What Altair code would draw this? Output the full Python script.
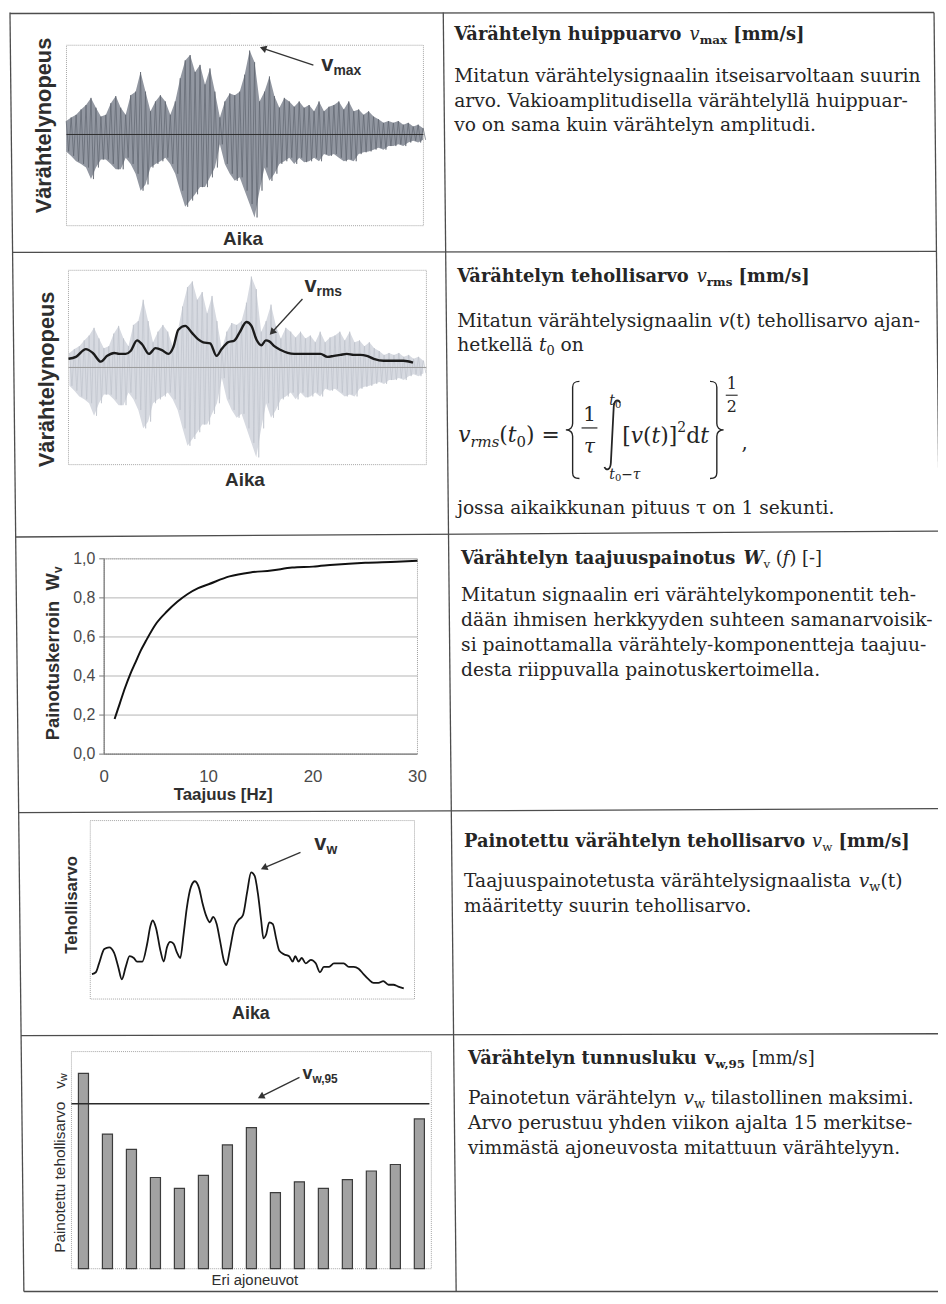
import glob
import math
import os
import struct

import altair as alt
import pandas as pd

# ----------------------------------------------------------------------------
# DATA
# ----------------------------------------------------------------------------
# Rows 1-2: measured vibration velocity, upper / lower peak of each time slot
signal_upper = [
    0.15, 0.19, 0.22, 0.28, 0.33, 0.41, 0.30, 0.20, 0.22, 0.35,
    0.43, 0.30, 0.22, 0.44, 0.48, 0.70, 0.48, 0.26, 0.37, 0.44,
    0.37, 0.22, 0.37, 0.63, 0.83, 0.89, 0.70, 0.78, 0.56, 0.74,
    0.48, 0.19, 0.37, 0.46, 0.44, 0.48, 0.67, 0.94, 0.81, 0.37,
    0.48, 0.65, 0.43, 0.30, 0.41, 0.37, 0.31, 0.37, 0.30, 0.33,
    0.26, 0.37, 0.26, 0.31, 0.33, 0.37, 0.28, 0.37, 0.26, 0.28,
    0.22, 0.26, 0.20, 0.17, 0.13, 0.15, 0.13, 0.15, 0.11, 0.13,
    0.09, 0.11, 0.07,
]
signal_lower = [
    -0.19, -0.24, -0.30, -0.33, -0.37, -0.50, -0.37, -0.28, -0.28, -0.33,
    -0.39, -0.39, -0.26, -0.33, -0.44, -0.63, -0.56, -0.37, -0.33, -0.30,
    -0.26, -0.33, -0.44, -0.63, -0.81, -0.74, -0.67, -0.59, -0.59, -0.48,
    -0.37, -0.11, -0.33, -0.44, -0.52, -0.48, -0.63, -0.78, -0.93, -0.63,
    -0.37, -0.52, -0.44, -0.33, -0.30, -0.26, -0.33, -0.26, -0.31, -0.30,
    -0.26, -0.30, -0.22, -0.24, -0.22, -0.26, -0.30, -0.28, -0.30, -0.22,
    -0.20, -0.19, -0.17, -0.15, -0.17, -0.13, -0.13, -0.11, -0.13, -0.09,
    -0.07, -0.09, -0.06,
]
# Row 2: running rms curve (same time units as the signal samples)
rms_time = [
    0, 1.5, 3.5, 4.9, 6.5, 7.8, 9.2, 10.2, 11.5, 12.5,
    13.8, 14.8, 16.2, 17.5, 18.8, 20.1, 21.1, 22.1, 23.5, 24.8,
    26.1, 27.1, 28.5, 29.8, 30.8, 32.1, 33.4, 34.4, 35.8, 36.8,
    37.8, 38.8, 39.7, 40.4, 41.4, 42.7, 44.1, 45.4, 46.7, 48.1,
    49.4, 50.7, 52.1, 53.4, 54.7, 56.0, 57.4, 58.7, 60.0, 61.4,
    63.4, 65.4, 67.4, 69.3,
]
rms_value = [
    0.09, 0.11, 0.19, 0.15, 0.06, 0.12, 0.15, 0.14, 0.14, 0.17,
    0.28, 0.24, 0.14, 0.20, 0.18, 0.14, 0.21, 0.39, 0.43, 0.36,
    0.29, 0.26, 0.25, 0.12, 0.19, 0.26, 0.28, 0.36, 0.47, 0.43,
    0.29, 0.23, 0.28, 0.27, 0.22, 0.18, 0.15, 0.14, 0.14, 0.14,
    0.14, 0.14, 0.11, 0.12, 0.13, 0.14, 0.13, 0.13, 0.12, 0.09,
    0.07, 0.07, 0.07, 0.05,
]
# Row 3: frequency weighting Wv(f)
wv_freq = [1, 1.5, 2, 2.5, 3, 3.5, 4, 5, 6, 7, 8, 9, 10, 12, 14, 16, 18, 20, 22, 25, 28, 30]
wv_weight = [0.18, 0.26, 0.34, 0.41, 0.47, 0.53, 0.58, 0.67, 0.73, 0.78, 0.82, 0.85,
             0.87, 0.91, 0.93, 0.94, 0.955, 0.96, 0.97, 0.98, 0.985, 0.99]
wv_yticks = [0.0, 0.2, 0.4, 0.6, 0.8, 1.0]
wv_ytick_labels = ["0,0", "0,2", "0,4", "0,6", "0,8", "1,0"]
wv_xticks = [0, 10, 20, 30]
wv_xtick_labels = ["0", "10", "20", "30"]
# Row 4: weighted rms curve
vw_time = [
    0.6, 1.8, 2.8, 4.4, 5.9, 7.4, 8.7, 9.8, 11.0, 12.2,
    13.5, 14.5, 16.1, 17.6, 18.6, 19.3, 20.3, 21.7, 22.7, 23.7,
    24.7, 25.7, 26.8, 27.8, 28.8, 29.8, 31.1, 32.3, 33.6, 34.6,
    35.9, 36.9, 37.9, 39.0, 40.0, 41.3, 42.0, 43.0, 44.4, 45.6,
    47.1, 48.4, 49.6, 50.7, 51.7, 52.7, 53.4, 54.2, 55.2, 56.3,
    57.3, 58.3, 59.8, 61.3, 62.4, 63.2, 64.2, 65.2, 66.4, 68.0,
    69.5, 70.8, 72.0, 73.6, 75.1, 76.6, 78.1, 79.7, 81.2, 82.7,
    84.2, 85.8, 87.3, 88.8, 90.3, 91.9, 93.4, 94.9, 96.6,
]
vw_value = [
    0.14, 0.15, 0.20, 0.28, 0.29, 0.26, 0.18, 0.11, 0.18, 0.24,
    0.23, 0.21, 0.21, 0.31, 0.41, 0.44, 0.40, 0.27, 0.21, 0.29,
    0.32, 0.31, 0.26, 0.23, 0.36, 0.51, 0.63, 0.66, 0.62, 0.54,
    0.46, 0.43, 0.46, 0.42, 0.33, 0.21, 0.19, 0.27, 0.40, 0.44,
    0.47, 0.60, 0.71, 0.69, 0.59, 0.44, 0.34, 0.36, 0.43, 0.42,
    0.34, 0.27, 0.25, 0.24, 0.21, 0.24, 0.21, 0.23, 0.20, 0.22,
    0.20, 0.15, 0.18, 0.18, 0.20, 0.20, 0.20, 0.18, 0.18, 0.17,
    0.14, 0.11, 0.09, 0.09, 0.10, 0.08, 0.08, 0.07, 0.06,
]
# Row 5: weighted rms of the 15 vehicles and the statistical maximum
vehicles = list(range(1, 16))
vehicle_vw = [0.90, 0.62, 0.55, 0.42, 0.37, 0.43, 0.57, 0.65, 0.35, 0.40,
              0.37, 0.41, 0.45, 0.48, 0.69]
vw95_level = [0.76]

# ----------------------------------------------------------------------------
# LAYOUT helpers (page pixel coordinates -> chart coordinates)
# ----------------------------------------------------------------------------
OX, OY = 8, 8
W, H = 938, 1292


def px(x):
    return x - OX


def py(y):
    return y - OY


SERIF = "DejaVu Serif"
SANS = "Liberation Sans"
INK = "#252525"
LBL = "#2e2e2e"

FONT_FILES = {
    (SERIF, "normal", "normal"): "DejaVuSerif.ttf",
    (SERIF, "bold", "normal"): "DejaVuSerif-Bold.ttf",
    (SERIF, "normal", "italic"): "DejaVuSerif-Italic.ttf",
    (SERIF, "bold", "italic"): "DejaVuSerif-BoldItalic.ttf",
    (SANS, "normal", "normal"): "LiberationSans-Regular.ttf",
    (SANS, "bold", "normal"): "LiberationSans-Bold.ttf",
}
FALLBACK_EM = {SERIF: 0.58, SANS: 0.55}


class _TTF:
    def __init__(self, path):
        with open(path, "rb") as fh:
            d = fh.read()
        self.d = d
        n = struct.unpack(">H", d[4:6])[0]
        tab = {}
        for i in range(n):
            tag, _c, off, _l = struct.unpack(">4sIII", d[12 + 16 * i: 28 + 16 * i])
            tab[tag] = off
        head = tab[b"head"]
        self.upem = struct.unpack(">H", d[head + 18: head + 20])[0]
        hhea = tab[b"hhea"]
        nhm = struct.unpack(">H", d[hhea + 34: hhea + 36])[0]
        hm = tab[b"hmtx"]
        self.adv = struct.unpack(">%dH" % (2 * nhm), d[hm: hm + 4 * nhm])[0::2]
        cm = tab[b"cmap"]
        nsub = struct.unpack(">H", d[cm + 2: cm + 4])[0]
        self.k = None
        for i in range(nsub):
            pid, eid, off = struct.unpack(">HHI", d[cm + 4 + 8 * i: cm + 12 + 8 * i])
            sub = cm + off
            fmt = struct.unpack(">H", d[sub: sub + 2])[0]
            if fmt == 4 and (pid == 0 or (pid == 3 and eid == 1)):
                s2 = struct.unpack(">H", d[sub + 6: sub + 8])[0]
                k = s2 // 2
                self.ends = struct.unpack(">%dH" % k, d[sub + 14: sub + 14 + s2])
                self.starts = struct.unpack(">%dH" % k, d[sub + 16 + s2: sub + 16 + 2 * s2])
                self.deltas = struct.unpack(">%dh" % k, d[sub + 16 + 2 * s2: sub + 16 + 3 * s2])
                self.rpos = sub + 16 + 3 * s2
                self.roffs = struct.unpack(">%dH" % k, d[self.rpos: self.rpos + s2])
                self.k = k
                break
        if self.k is None:
            raise ValueError("no usable cmap")

    def gid(self, c):
        for i in range(self.k):
            if self.ends[i] >= c:
                if self.starts[i] > c:
                    return 0
                if self.roffs[i] == 0:
                    return (c + self.deltas[i]) & 0xFFFF
                addr = self.rpos + 2 * i + self.roffs[i] + 2 * (c - self.starts[i])
                g = struct.unpack(">H", self.d[addr: addr + 2])[0]
                return ((g + self.deltas[i]) & 0xFFFF) if g else 0
        return 0

    def width(self, s, size):
        tot = 0
        for ch in s:
            g = self.gid(ord(ch))
            tot += self.adv[min(g, len(self.adv) - 1)]
        return tot * size / self.upem


_fonts = {}


def _font(key):
    if key in _fonts:
        return _fonts[key]
    f = None
    name = FONT_FILES.get(key)
    if name:
        for d in ["/usr/share/fonts", "/usr/local/share/fonts",
                  os.path.expanduser("~/.fonts"), os.path.expanduser("~/.local/share/fonts")]:
            try:
                hits = glob.glob(os.path.join(d, "**", name), recursive=True)
            except Exception:
                hits = []
            if hits:
                try:
                    f = _TTF(hits[0])
                except Exception:
                    f = None
                break
    _fonts[key] = f
    return f


def tw(s, font, size, weight="normal", style="normal"):
    f = _font((font, weight, style))
    if f is None:
        return len(s) * size * FALLBACK_EM.get(font, 0.56)
    return f.width(s, size)


TEXTS, LINES, BOXES, HEADS, SHAPES = [], [], [], [], []


def put(x, y, s, font, size, weight="normal", style="normal", color=INK,
        align="left", baseline="alphabetic", angle=0):
    TEXTS.append(dict(x=round(px(x), 2), y=round(py(y), 2), text=s, font=font,
                      size=size, weight=weight, style=style, color=color,
                      align=align, baseline=baseline, angle=angle))


def run(x, y, pieces, font=SERIF, color=INK):
    for s, size, weight, style, dy in pieces:
        lead = len(s) - len(s.lstrip(" "))
        x += tw(" " * lead, font, size, weight, style)
        body = s.strip(" ")
        if body:
            put(x, y + dy, body, font, size, weight, style, color)
        x += tw(s.lstrip(" "), font, size, weight, style)
    return x


def run_up(x, y, pieces, font=SANS, color=LBL):
    for s, size, weight, style, dx in pieces:
        lead = len(s) - len(s.lstrip(" "))
        y -= tw(" " * lead, font, size, weight, style)
        body = s.strip(" ")
        if body:
            put(x + dx, y, body, font, size, weight, style, color, angle=270)
        y -= tw(s.lstrip(" "), font, size, weight, style)
    return y


def line(x1, y1, x2, y2, color="#4d4d4d", width=1.3, dash=""):
    LINES.append(dict(x=px(x1), y=py(y1), x2=px(x2), y2=py(y2),
                      color=color, width=width, dash=dash))


def box(x1, y1, x2, y2, color="#a5a5a5", dash="1,1"):
    BOXES.append(dict(x=px(x1), y=py(y1), x2=px(x2), y2=py(y2), color=color, dash=dash))


def arrow(tail, head, color="#333333"):
    dx, dy = head[0] - tail[0], head[1] - tail[1]
    L = math.hypot(dx, dy)
    ux, uy = dx / L, dy / L
    cx, cy = head[0] - ux * 3.4, head[1] - uy * 3.4
    line(tail[0], tail[1], cx, cy, color, 1.3)
    ang = math.degrees(math.atan2(ux, -uy)) % 360
    HEADS.append(dict(x=px(cx), y=py(cy), a=round(ang, 1)))


def sx(field, dom, r0, r1):
    return alt.X(field, type="quantitative", axis=None,
                 scale=alt.Scale(domain=dom, range=[px(r0), px(r1)], nice=False, zero=False))


def sy(field, dom, r0, r1):
    return alt.Y(field, type="quantitative", axis=None,
                 scale=alt.Scale(domain=dom, range=[py(r0), py(r1)], nice=False, zero=False))


RAW_X = alt.X("x:Q", scale=None, axis=None)
RAW_Y = alt.Y("y:Q", scale=None, axis=None)

# ----------------------------------------------------------------------------
# TABLE GRID (slightly skewed like the scan)
# ----------------------------------------------------------------------------
VLINES = [(10, 24), (447, 460), (942, 955)]
HLINES = [(8, 7), (249, 248), (536, 530), (814, 810), (1039, 1037), (1297, 1297)]


def vx(top, bot, y):
    return top + (bot - top) * (y - 8) / (1297 - 8)


for xt, xb in VLINES:
    line(xt, 7, xb, 1297)
for yl, yr in HLINES:
    line(vx(10, 24, yl), yl, vx(942, 955, yr), yr)

# chart frames
B1 = (67, 40, 427, 222)
B2 = (69, 267, 430, 463)
B3 = (105, 558, 421, 755)
B4 = (91, 822, 418, 1002)
B5 = (72, 1055, 435, 1274)
for b in (B1, B2, B4, B5):
    box(*b)
box(*B3, color="#9a9a9a")
line(B3[0], B3[1], B3[0], B3[3], "#777777", 1.2)
line(B3[0], B3[3], B3[2], B3[3], "#777777", 1.2)

# ----------------------------------------------------------------------------
# TEXTS: left column charts
# ----------------------------------------------------------------------------
put(44, 121, "Värähtelynopeus", SANS, 22, "bold", color=LBL, align="center", baseline="middle", angle=270)
put(245, 241, "Aika", SANS, 19, "bold", color=LBL, align="center")
run(324, 66, [("v", 22, "bold", "normal", 0), ("max", 14, "bold", "normal", 4)], SANS, LBL)
arrow((316, 60), (262, 42))

put(47, 377, "Värähtelynopeus", SANS, 22, "bold", color=LBL, align="center", baseline="middle", angle=270)
put(247, 485, "Aika", SANS, 19, "bold", color=LBL, align="center")
run(307, 289, [("v", 22, "bold", "normal", 0), ("rms", 14, "bold", "normal", 4)], SANS, LBL)
arrow((305, 296), (272, 332))

run_up(59, 741, [("Painotuskerroin  ", 18.5, "bold", "normal", 0), ("W", 18.5, "bold", "normal", 0),
                 ("v", 12, "bold", "normal", 3)], SANS, LBL)
put(225, 801, "Taajuus  [Hz]", SANS, 17, "bold", color=LBL, align="center")

put(73, 907, "Tehollisarvo", SANS, 17, "bold", color=LBL, align="center", baseline="middle", angle=270)
put(253, 1022, "Aika", SANS, 18, "bold", color=LBL, align="center")
run(317, 852, [("v", 22, "bold", "normal", 0), ("w", 14, "bold", "normal", 4)], SANS, LBL)
arrow((303, 854), (263, 871))

run_up(65, 1258, [("Painotettu tehollisarvo   ", 15.5, "normal", "normal", 0), ("v", 15.5, "normal", "normal", 0),
                  ("w", 11, "normal", "normal", 3)], SANS, LBL)
put(257, 1290, "Eri ajoneuvot", SANS, 15, color=LBL, align="center")
run(305, 1083, [("v", 18, "bold", "normal", 0), ("w,95", 12, "bold", "normal", 4)], SANS, LBL)
arrow((302, 1081), (260, 1102))

# ----------------------------------------------------------------------------
# TEXTS: right column
# ----------------------------------------------------------------------------
HS, BS = 18, 18.8
B, N, I = "bold", "normal", "italic"

run(458, 35, [("Värähtelyn huippuarvo ", HS, B, N, 0), ("v", HS, N, I, 0), ("max", 12, B, N, 4),
              (" [mm/s]", HS, B, N, 0)])
put(458, 77, "Mitatun värähtelysignaalin itseisarvoltaan suurin", SERIF, BS)
put(458, 102, "arvo. Vakioamplitudisella värähtelyllä huippuar-", SERIF, BS)
put(458, 127, "vo on sama kuin värähtelyn amplitudi.", SERIF, BS)

run(461, 279, [("Värähtelyn tehollisarvo ", HS, B, N, 0), ("v", HS, N, I, 0), ("rms", 12, B, N, 4),
               (" [mm/s]", HS, B, N, 0)])
run(461, 324, [("Mitatun värähtelysignaalin ", BS, N, N, 0), ("v", BS, N, I, 0),
               ("(t) tehollisarvo ajan-", BS, N, N, 0)])
run(461, 348, [("hetkellä ", BS, N, N, 0), ("t", BS, N, I, 0), ("0", 13, N, N, 4), (" on", BS, N, N, 0)])

# formula v_rms(t0) = { 1/tau  integral [v(t)]^2 dt }^(1/2)
e1 = run(462, 440, [("v", 22, N, I, 0), ("rms", 15, N, I, 5), ("(", 22, N, N, 0), ("t", 22, N, I, 0),
                    ("0", 15, N, N, 5), (") = ", 22, N, N, 0)])
LBRACE = ("M 0.14 -1 C 0.03 -1 0 -0.96 0 -0.88 L 0 -0.13 C 0 -0.05 -0.05 0 -0.14 0 "
          "C -0.05 0 0 0.05 0 0.13 L 0 0.88 C 0 0.96 0.03 1 0.14 1")
RBRACE = ("M -0.14 -1 C -0.03 -1 0 -0.96 0 -0.88 L 0 -0.13 C 0 -0.05 0.05 0 0.14 0 "
          "C 0.05 0 0 0.05 0 0.13 L 0 0.88 C 0 0.96 -0.03 1 -0.14 1")
INTEG = "M 0.22 -0.9 C 0.17 -1.02 0.05 -0.98 0.04 -0.78 L -0.04 0.78 C -0.05 0.98 -0.17 1.02 -0.22 0.9"
SHAPES.append(dict(x=px(e1 + 6), y=py(428), shape=LBRACE, size=98 * 98, sw=1.4))
put(e1 + 23, 419, "1", SERIF, 20, align="center")
line(e1 + 15, 426, e1 + 31, 426, INK, 1.2)
put(e1 + 23, 451, "τ", SERIF, 20, style=I, align="center")
SHAPES.append(dict(x=px(e1 + 46), y=py(433), shape=INTEG, size=72 * 72, sw=1.8))
run(e1 + 43, 403, [("t", 14, N, I, 0), ("0", 10, N, N, 3)])
run(e1 + 43, 477, [("t", 14, N, I, 0), ("0", 10, N, N, 3), ("−", 14, N, N, 0), ("τ", 14, N, I, 0)])
e2 = run(e1 + 56, 441, [("[", 22, N, N, 0), ("v", 22, N, I, 0), ("(", 22, N, N, 0), ("t", 22, N, I, 0),
                        (")]", 22, N, N, 0), ("2", 14, N, N, -11), ("d", 22, N, N, 0), ("t", 22, N, I, 0)])
SHAPES.append(dict(x=px(e2 + 8), y=py(428), shape=RBRACE, size=98 * 98, sw=1.4))
put(e2 + 23, 387, "1", SERIF, 16, align="center")
line(e2 + 17, 393, e2 + 29, 393, INK, 1.1)
put(e2 + 23, 410, "2", SERIF, 16, align="center")
put(e2 + 33, 447, ",", SERIF, 20)

put(461, 513, "jossa aikaikkunan pituus τ on 1 sekunti.", SERIF, BS)

run(465, 563, [("Värähtelyn taajuuspainotus ", HS, B, N, 0), ("W", HS, B, I, 0), ("v", 12, N, N, 4),
               (" (", HS, N, N, 0), ("f", HS, N, I, 0), (") [-]", HS, N, N, 0)])
put(465, 601, "Mitatun signaalin eri värähtelykomponentit teh-", SERIF, BS)
put(465, 626, "dään ihmisen herkkyyden suhteen samanarvoisik-", SERIF, BS)
put(465, 651, "si painottamalla värähtely-komponentteja taajuu-", SERIF, BS)
put(465, 676, "desta riippuvalla painotuskertoimella.", SERIF, BS)

run(468, 849, [("Painotettu värähtelyn tehollisarvo ", HS, B, N, 0), ("v", HS, N, I, 0), ("w", 12, N, N, 4),
               (" [mm/s]", HS, B, N, 0)])
run(468, 889, [("Taajuuspainotetusta värähtelysignaalista ", BS, N, N, 0), ("v", BS, N, I, 0),
               ("w", 13, N, N, 4), ("(t)", BS, N, N, 0)])
put(468, 914, "määritetty suurin tehollisarvo.", SERIF, BS)

run(472, 1068, [("Värähtelyn tunnusluku ", HS, B, N, 0), ("v", HS, B, N, 0), ("w,95", 12, B, N, 4),
                (" [mm/s]", HS, N, N, 0)])
run(472, 1108, [("Painotetun värähtelyn ", BS, N, N, 0), ("v", BS, N, I, 0), ("w", 13, N, N, 4),
                (" tilastollinen maksimi.", BS, N, N, 0)])
put(472, 1133, "Arvo perustuu yhden viikon ajalta 15 merkitse-", SERIF, BS)
put(472, 1158, "vimmästä ajoneuvosta mitattuun värähtelyyn.", SERIF, BS)

# ----------------------------------------------------------------------------
# DATA TABLES
# ----------------------------------------------------------------------------
n = min(len(signal_upper), len(signal_lower))
sig_df = pd.DataFrame({"s": list(range(n)), "up": signal_upper[:n], "lo": signal_lower[:n]})
zig_rows = []
for i in range(n):
    zig_rows.append({"s": i, "v": signal_upper[i]})
    zig_rows.append({"s": i + 0.5, "v": signal_lower[i]})
zig_df = pd.DataFrame(zig_rows)
zero_df = pd.DataFrame({"v": [0.0]})
rms_df = pd.DataFrame({"s": rms_time, "v": rms_value})
wv_df = pd.DataFrame({"f": wv_freq, "w": wv_weight})
wv_y_df = pd.DataFrame({"v": wv_yticks, "lab": wv_ytick_labels})
wv_grid_df = wv_y_df[wv_y_df["v"] > 0]
wv_x_df = pd.DataFrame({"f": wv_xticks, "lab": wv_xtick_labels})
vw_df = pd.DataFrame({"t": vw_time, "v": vw_value})
bar_df = pd.DataFrame({"veh": vehicles, "val": vehicle_vw})
v95_df = pd.DataFrame({"v": vw95_level})

# ----------------------------------------------------------------------------
# LAYERS
# ----------------------------------------------------------------------------
layers = []

# frames
bdf = pd.DataFrame(BOXES)
for (color, dash), g in bdf.groupby(["color", "dash"], sort=False):
    mk = dict(fillOpacity=0, stroke=color, strokeWidth=1)
    if dash:
        mk["strokeDash"] = [float(v) for v in dash.split(",")]
    layers.append(alt.Chart(g.reset_index(drop=True)).mark_rect(**mk).encode(
        x=RAW_X, y=RAW_Y, x2="x2:Q", y2="y2:Q"))

# chart 1: signal
X1 = (66.7, 426.7)
layers.append(alt.Chart(sig_df).mark_area(color="#9297a1", opacity=1).encode(
    x=sx("s", [0, 72], *X1), y=sy("up", [-1, 1], 220, 40), y2="lo"))
layers.append(alt.Chart(zig_df).mark_line(color="#60656f", strokeWidth=0.7).encode(
    x=sx("s", [0, 72], *X1), y=sy("v", [-1, 1], 220, 40)))
layers.append(alt.Chart(zero_df).mark_rule(color="#2f2f2f", strokeWidth=1).encode(
    y=sy("v", [-1, 1], 220, 40), x=alt.value(px(B1[0])), x2=alt.value(px(B1[2]))))

# chart 2: light signal + rms
X2 = (70, 427)
layers.append(alt.Chart(sig_df).mark_area(color="#d7dae1", opacity=1).encode(
    x=sx("s", [0, 72], *X2), y=sy("up", [-1, 1], 462.5, 267.5), y2="lo"))
layers.append(alt.Chart(zig_df).mark_line(color="#bfc3cd", strokeWidth=0.7).encode(
    x=sx("s", [0, 72], *X2), y=sy("v", [-1, 1], 462.5, 267.5)))
layers.append(alt.Chart(zero_df).mark_rule(color="#9a9a9a", strokeWidth=1).encode(
    y=sy("v", [-1, 1], 462.5, 267.5), x=alt.value(px(B2[0])), x2=alt.value(px(B2[2]))))
layers.append(alt.Chart(rms_df).mark_line(color="#1b1b1b", strokeWidth=2.4, interpolate="monotone").encode(
    x=sx("s", [0, 72], 69, 430), y=sy("v", [-1, 1], 462.5, 267.5)))

# chart 3: weighting curve
Y3 = (755, 558)
layers.append(alt.Chart(wv_grid_df).mark_rule(color="#b4b4b4", strokeWidth=1).encode(
    y=sy("v", [0, 1], *Y3), x=alt.value(px(B3[0])), x2=alt.value(px(B3[2]))))
layers.append(alt.Chart(wv_y_df).mark_rule(color="#777777", strokeWidth=1).encode(
    y=sy("v", [0, 1], *Y3), x=alt.value(px(B3[0] - 5)), x2=alt.value(px(B3[0]))))
layers.append(alt.Chart(wv_df).mark_line(color="#111111", strokeWidth=2, interpolate="monotone").encode(
    x=sx("f", [0, 30], B3[0], B3[2]), y=sy("w", [0, 1], *Y3)))
layers.append(alt.Chart(wv_y_df).mark_text(align="right", baseline="middle", font=SANS, fontSize=16,
                                           color="#4a4a4a").encode(
    y=sy("v", [0, 1], *Y3), x=alt.value(px(96)), text="lab:N"))
layers.append(alt.Chart(wv_x_df).mark_text(align="center", baseline="middle", font=SANS, fontSize=17,
                                           color="#4a4a4a").encode(
    x=sx("f", [0, 30], B3[0], B3[2]), y=alt.value(py(778)), text="lab:N"))

# chart 4: weighted rms
layers.append(alt.Chart(vw_df).mark_line(color="#151515", strokeWidth=1.8, interpolate="monotone").encode(
    x=sx("t", [0, 100], 90.7, 418.3), y=sy("v", [0, 1], 1002, 822)))

# chart 5: vehicles
layers.append(alt.Chart(bar_df).transform_calculate(
    l="datum.veh - 0.21", r="datum.veh + 0.21", z="0").mark_rect(
    fill="#a2a2a2", stroke="#3c3c3c", strokeWidth=1.2).encode(
    x=sx("l", [0.5, 15.5], B5[0], B5[2]), x2="r:Q",
    y=sy("val", [0, 1], 1274, 1055), y2="z:Q"))
layers.append(alt.Chart(v95_df).mark_rule(color="#2a2a2a", strokeWidth=1.5).encode(
    y=sy("v", [0, 1], 1274, 1055), x=alt.value(px(B5[0])), x2=alt.value(px(433))))

# table lines, arrows, fraction bars
ldf = pd.DataFrame(LINES)
for (color, width, dash), g in ldf.groupby(["color", "width", "dash"], sort=False):
    mk = dict(color=color, strokeWidth=float(width))
    if dash:
        mk["strokeDash"] = [float(v) for v in dash.split(",")]
    layers.append(alt.Chart(g[["x", "y", "x2", "y2"]].reset_index(drop=True)).mark_rule(**mk).encode(
        x=RAW_X, y=RAW_Y, x2="x2:Q", y2="y2:Q"))

layers.append(alt.Chart(pd.DataFrame(HEADS)).mark_point(
    shape="triangle-up", filled=True, size=60, color="#333333", opacity=1).encode(
    x=RAW_X, y=RAW_Y, angle=alt.Angle("a:Q", scale=None)))

for sh in SHAPES:
    layers.append(alt.Chart(pd.DataFrame([{"x": sh["x"], "y": sh["y"]}])).mark_point(
        shape=sh["shape"], size=sh["size"], filled=False, color=INK, strokeWidth=sh["sw"], opacity=1).encode(
        x=RAW_X, y=RAW_Y))

# texts
tdf = pd.DataFrame(TEXTS)
keys = ["font", "size", "weight", "style", "color", "align", "baseline", "angle"]
for key, g in tdf.groupby(keys, sort=False):
    font, size, weight, style, color, align, baseline, angle = key
    mk = dict(font=font, fontSize=float(size), fontWeight=weight, fontStyle=style, color=color,
              align=align, baseline=baseline)
    if angle:
        mk["angle"] = float(angle)
    layers.append(alt.Chart(g[["x", "y", "text"]].reset_index(drop=True)).mark_text(**mk).encode(
        x=RAW_X, y=RAW_Y, text="text:N"))

chart = alt.layer(*layers).resolve_scale(x="independent", y="independent").properties(
    width=W, height=H, padding=0, background="white",
    autosize=alt.AutoSizeParams(type="none"),
).configure_view(stroke=None)

chart.save("out.html", embed_options={"renderer": "svg", "actions": False})
